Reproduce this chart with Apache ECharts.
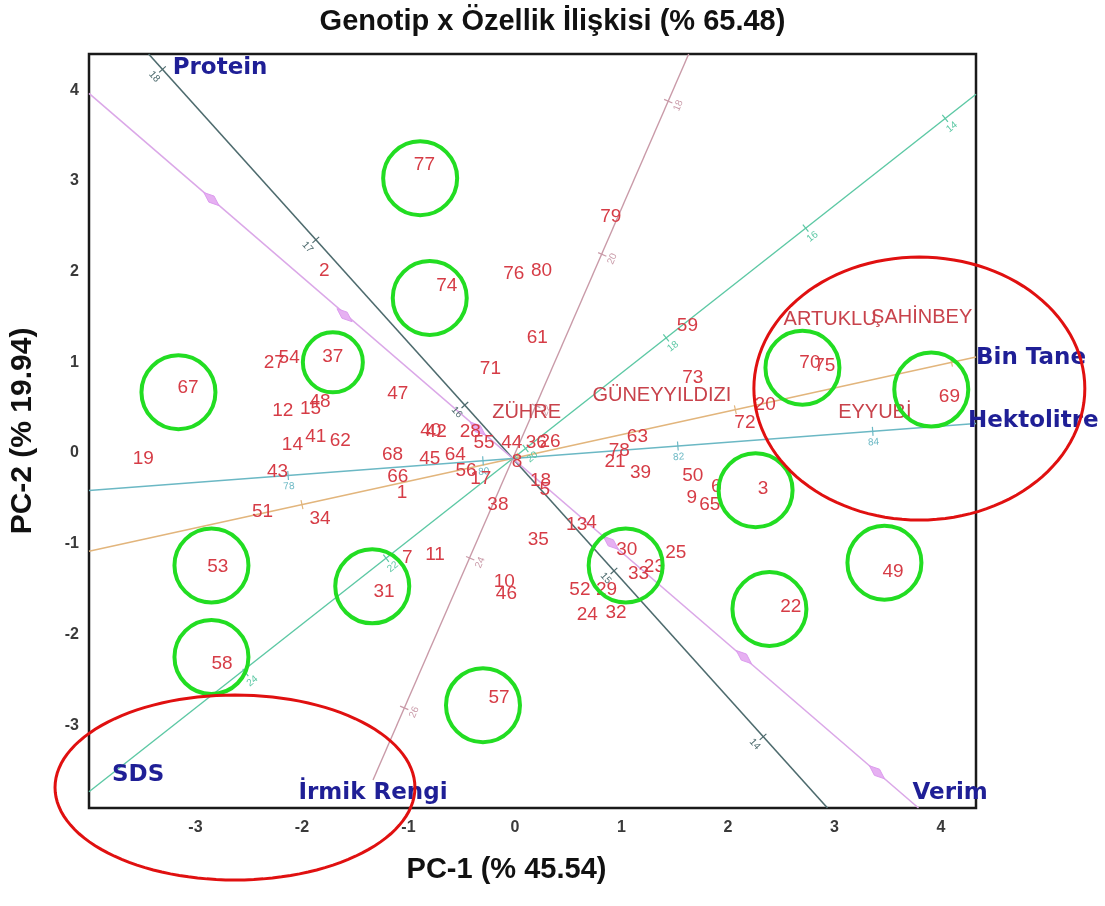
<!DOCTYPE html>
<html><head><meta charset="utf-8">
<script src="https://cdn.jsdelivr.net/npm/echarts@6/dist/echarts.min.js"></script>
<style>html,body{margin:0;padding:0;background:#fff}#c{width:1105px;height:906px}</style>
</head><body><div id="c"></div>
<script>
// ---------------- data ----------------
const titleText = 'Genotip x Özellik İlişkisi (% 65.48)';
const xAxisName = 'PC-1 (% 45.54)';
const yAxisName = 'PC-2 (% 19.94)';
const xTickLabels = [-3, -2, -1, 0, 1, 2, 3, 4];
const yTickLabels = [-3, -2, -1, 0, 1, 2, 3, 4];

const genotypeNames = ['77','2','74','76','80','79','61','59','71','47','37','27','54','67','12','15','48','14','41','62','19','43','68','66','1','40','42','45','64','56','17','28','55','44','36','26','8','5','18','38','35','13','4','10','46','7','11','31','53','51','34','58','57','30','23','25','33','52','29','24','32','63','78','21','39','50','9','65','6','3','22','49','73','72','20','70','75','69'];
const genotypeX = [-0.85,-1.79,-0.64,-0.01,0.25,0.90,0.21,1.62,-0.23,-1.10,-1.71,-2.26,-2.12,-3.07,-2.18,-1.92,-1.83,-2.09,-1.87,-1.64,-3.49,-2.23,-1.15,-1.10,-1.06,-0.79,-0.74,-0.80,-0.56,-0.46,-0.32,-0.42,-0.29,-0.03,0.20,0.33,0.02,0.28,0.24,-0.16,0.22,0.58,0.72,-0.10,-0.08,-1.01,-0.75,-1.23,-2.79,-2.37,-1.83,-2.75,-0.15,1.05,1.31,1.51,1.16,0.61,0.86,0.68,0.95,1.15,0.98,0.94,1.18,1.67,1.66,1.83,1.89,2.33,2.59,3.55,1.67,2.16,2.35,2.77,2.91,4.08];
const genotypeY = [3.18,2.01,1.84,1.98,2.01,2.60,1.27,1.40,0.93,0.65,1.06,1.00,1.05,0.72,0.47,0.49,0.56,0.09,0.18,0.14,-0.06,-0.21,-0.02,-0.26,-0.44,0.25,0.23,-0.06,-0.02,-0.20,-0.28,0.23,0.11,0.11,0.11,0.12,-0.10,-0.40,-0.31,-0.57,-0.96,-0.79,-0.77,-1.42,-1.55,-1.15,-1.12,-1.53,-1.25,-0.65,-0.72,-2.32,-2.70,-1.07,-1.25,-1.10,-1.33,-1.51,-1.51,-1.78,-1.76,0.18,0.03,-0.10,-0.22,-0.25,-0.49,-0.57,-0.37,-0.39,-1.69,-1.31,0.83,0.33,0.53,1.00,0.96,0.62];

const cultivarNames = ['ZÜHRE','GÜNEYYILDIZI','ARTUKLU','ŞAHİNBEY','EYYUBİ'];
const cultivarX = [0.11, 1.38, 2.96, 3.82, 3.38];
const cultivarY = [0.45, 0.64, 1.47, 1.49, 0.45];

// trait vectors: the labelled end of each trait axis (data units)
const biplotOrigin = [-0.02, -0.06];
const traitNames = ['Protein','Verim','İrmik Rengi','SDS','Bin Tane','Hektolitre'];
const traitEndX = [-3.44, 3.79, -1.333, -4.0, 4.33, 4.33];
const traitEndY = [4.40, -3.914, -3.605, -3.735, 1.058, 0.325];

// calibration ticks read along each trait axis
const proteinTickLabels = ['18','17','16','15','14'];
const proteinTickX = [-3.31,-1.87,-0.47,0.93,2.33];
const proteinTickY = [4.23,2.35,0.53,-1.30,-3.13];
const irmikTickLabels = ['18','20','22','24','26'];
const irmikTickX = [1.44,0.82,0.20,-0.42,-1.04];
const irmikTickY = [3.88,2.19,0.52,-1.16,-2.81];
const sdsTickLabels = ['14','16','18','20','22','24'];
const sdsTickX = [4.04,2.73,1.42,0.10,-1.21,-2.53];
const sdsTickY = [3.69,2.48,1.27,0.05,-1.16,-2.42];
const hektoTickLabels = ['78','80','82','84'];
const hektoTickX = [-2.13,-0.30,1.53,3.36];
const hektoTickY = [-0.247,-0.085,0.077,0.239];
const binTickLabels = ['','','',''];
const binTickX = [-2.00,0.03,2.07,4.10];
const binTickY = [-0.569,-0.047,0.477,1.000];
const verimMarkX = [-2.85,-1.60,-0.35,0.90,2.15,3.40];
const verimMarkY = [2.80,1.52,0.27,-0.99,-2.25,-3.52];

// annotation marks
const greenCircleFor = ['77','74','37','67','53','31','58','57','30','3','22','49','70','69'];
const greenCircleX = [-0.89,-0.80,-1.71,-3.16,-2.85,-1.34,-2.85,-0.30,1.04,2.26,2.39,3.47,2.70,3.91];
const greenCircleY = [3.03,1.71,1.00,0.67,-1.24,-1.47,-2.25,-2.78,-1.24,-0.41,-1.72,-1.21,0.94,0.70];
const redEllipseX = [3.798, -2.629];
const redEllipseY = [0.711, -3.688];
const redEllipseRx = [1.554, 1.690];
const redEllipseRy = [1.450, 1.020];

// ---------------- styles / layout ----------------
const X_MIN = -4.0, X_MAX = 4.33, Y_MIN = -3.914, Y_MAX = 4.40;
const traitStyle = {
  'Protein':     {color:'#4e6b6e', width:1.6, side:-1, offset:[24,14],  align:'left'},
  'Verim':       {color:'#dba8e8', width:1.6, side: 1, offset:[-6,-15], align:'left'},
  'İrmik Rengi': {color:'#c99aa8', width:1.4, side:-1, offset:[0,13],   align:'center'},
  'SDS':         {color:'#5cc8a4', width:1.4, side:-1, offset:[23,-17], align:'left'},
  'Bin Tane':    {color:'#e2b57c', width:1.6, side: 1, offset:[0,1],    align:'left'},
  'Hektolitre':  {color:'#6bb8c4', width:1.6, side: 1, offset:[-8,-3],  align:'left'}
};

function farEnd(ex, ey) {
  const O = biplotOrigin;
  const dx = -(ex - O[0]), dy = -(ey - O[1]);
  let t = Infinity;
  if (dx > 0) t = Math.min(t, (X_MAX - O[0]) / dx);
  if (dx < 0) t = Math.min(t, (X_MIN - O[0]) / dx);
  if (dy > 0) t = Math.min(t, (Y_MAX - O[1]) / dy);
  if (dy < 0) t = Math.min(t, (Y_MIN - O[1]) / dy);
  return [O[0] + dx * t, O[1] + dy * t];
}

const tickList = [];
function addTicks(ti, labels, xs, ys) {
  for (let i = 0; i < xs.length; i++) tickList.push({t: ti, x: xs[i], y: ys[i], label: labels[i]});
}
addTicks(0, proteinTickLabels, proteinTickX, proteinTickY);
addTicks(2, irmikTickLabels, irmikTickX, irmikTickY);
addTicks(3, sdsTickLabels, sdsTickX, sdsTickY);
addTicks(5, hektoTickLabels, hektoTickX, hektoTickY);
addTicks(4, binTickLabels, binTickX, binTickY);

function dirAngle(api, ti) {
  const o = api.coord(biplotOrigin);
  const e = api.coord([traitEndX[ti], traitEndY[ti]]);
  return Math.atan2(e[1] - o[1], e[0] - o[0]);
}

const noFade = {opacity: 1, color: 'rgba(0,0,0,0)'};
const series = [];
// trait axes
traitNames.forEach((name, i) => {
  const st = traitStyle[name];
  const far = farEnd(traitEndX[i], traitEndY[i]);
  series.push({
    type: 'line', name: name, silent: true, symbol: 'none', z: 2, animation: false,
    data: [[far[0], far[1]], [traitEndX[i], traitEndY[i]]],
    lineStyle: {color: st.color, width: st.width, opacity: 1}
  });
});
// calibration ticks
series.push({
  type: 'custom', z: 3, silent: true, animation: false,
  data: tickList.map(t => [t.x, t.y]),
  renderItem(params, api) {
    const tk = tickList[params.dataIndex];
    const p = api.coord([tk.x, tk.y]);
    const ang = dirAngle(api, tk.t);
    const nx = -Math.sin(ang), ny = Math.cos(ang);
    const st = traitStyle[traitNames[tk.t]];
    const L = 4.5;
    const kids = [{type: 'line', shape: {x1: p[0] - nx * L, y1: p[1] - ny * L, x2: p[0] + nx * L, y2: p[1] + ny * L},
      style: {stroke: st.color, lineWidth: 1.2}}];
    if (tk.label) {
      let a = ang; if (a > Math.PI / 2) a -= Math.PI; if (a < -Math.PI / 2) a += Math.PI;
      const d = st.side * 11;
      kids.push({type: 'text', x: p[0] + nx * d, y: p[1] + ny * d, rotation: -a,
        style: {text: tk.label, fill: st.color, fontSize: 10, fontFamily: 'Liberation Sans',
          align: 'center', verticalAlign: 'middle', textAlign: 'center', textVerticalAlign: 'middle'}});
    }
    return {type: 'group', children: kids};
  }
});
// Verim markers
series.push({
  type: 'custom', z: 3, silent: true, animation: false,
  data: verimMarkX.map((x, i) => [x, verimMarkY[i]]),
  renderItem(params, api) {
    const p = api.coord([api.value(0), api.value(1)]);
    const ang = dirAngle(api, 1);
    const ux = Math.cos(ang), uy = Math.sin(ang), nx = -uy, ny = ux;
    const a = 10, b = 4;
    return {type: 'polygon', shape: {points: [
      [p[0] + ux * a, p[1] + uy * a], [p[0] + nx * b, p[1] + ny * b],
      [p[0] - ux * a, p[1] - uy * a], [p[0] - nx * b, p[1] - ny * b]]},
      style: {fill: '#e6b0f2', stroke: '#dc9cee', lineWidth: 1}};
  }
});
// genotypes
series.push({
  type: 'scatter', z: 5, silent: true, animation: false, symbolSize: 1,
  itemStyle: noFade,
  data: genotypeNames.map((n, i) => ({name: n, value: [genotypeX[i], genotypeY[i]]})),
  label: {show: true, position: 'inside', formatter: '{b}', color: '#d63c46', opacity: 1,
    fontFamily: 'Liberation Sans', fontSize: 19}
});
series.push({
  type: 'scatter', z: 5, silent: true, animation: false, symbolSize: 1,
  itemStyle: noFade,
  data: cultivarNames.map((n, i) => ({name: n, value: [cultivarX[i], cultivarY[i]]})),
  label: {show: true, position: 'inside', formatter: '{b}', color: '#c8424b', opacity: 1,
    fontFamily: 'Liberation Sans', fontSize: 20}
});
// trait labels
series.push({
  type: 'scatter', z: 6, silent: true, animation: false, symbolSize: 1, clip: false,
  itemStyle: noFade,
  data: traitNames.map((n, i) => {
    const st = traitStyle[n];
    return {name: n, value: [traitEndX[i], traitEndY[i]],
      label: {offset: st.offset, align: st.align}};
  }),
  label: {show: true, position: 'inside', formatter: '{b}', color: '#1f1f96', opacity: 1,
    fontFamily: 'DejaVu Sans', fontWeight: 'bold', fontSize: 23, verticalAlign: 'middle'}
});
// green circles
series.push({
  type: 'scatter', z: 8, silent: true, animation: false, clip: false,
  symbol: 'circle',
  symbolSize: (v, p) => (greenCircleFor[p.dataIndex] === '37' ? 60 : 74),
  itemStyle: {color: 'rgba(0,0,0,0)', borderColor: '#22dd22', borderWidth: 4, opacity: 1},
  data: greenCircleX.map((x, i) => ({name: greenCircleFor[i], value: [x, greenCircleY[i]]}))
});
// red ellipses
series.push({
  type: 'custom', z: 9, silent: true, animation: false, clip: false,
  data: redEllipseX.map((x, i) => [x, redEllipseY[i], redEllipseRx[i], redEllipseRy[i]]),
  renderItem(params, api) {
    const c = api.coord([api.value(0), api.value(1)]);
    const s = api.size([api.value(2), api.value(3)]);
    const pts = [];
    for (let k = 0; k < 120; k++) {
      const t = k / 120 * Math.PI * 2;
      pts.push([c[0] + s[0] * Math.cos(t), c[1] + s[1] * Math.sin(t)]);
    }
    return {type: 'polygon', shape: {points: pts}, style: {fill: 'none', stroke: '#e01010', lineWidth: 3}};
  }
});

const option = {
  backgroundColor: '#ffffff',
  animation: false,
  title: {text: titleText, left: 'center', top: 2,
    textStyle: {fontFamily: 'Liberation Sans', fontWeight: 'bold', fontSize: 29, color: '#111'}},
  grid: {left: 89, right: 129, top: 54, bottom: 98, show: true, borderColor: '#1a1a1a', borderWidth: 2.5,
    backgroundColor: 'transparent', outerBoundsMode: 'none', containLabel: false},
  xAxis: {type: 'value', min: X_MIN, max: X_MAX, name: xAxisName, nameLocation: 'middle', nameGap: 47,
    nameTextStyle: {fontFamily: 'Liberation Sans', fontWeight: 'bold', fontSize: 29, color: '#111',
      padding: [0, 52, 0, 0]},
    axisLine: {show: false}, axisTick: {show: false}, splitLine: {show: false},
    axisLabel: {customValues: xTickLabels, margin: 12, color: '#3a3a3a', fontWeight: 'bold', fontSize: 16,
      fontFamily: 'Liberation Sans'}},
  yAxis: {type: 'value', min: Y_MIN, max: Y_MAX, name: yAxisName, nameLocation: 'middle', nameGap: 51,
    nameTextStyle: {fontFamily: 'Liberation Sans', fontWeight: 'bold', fontSize: 30, color: '#111'},
    axisLine: {show: false}, axisTick: {show: false}, splitLine: {show: false},
    axisLabel: {customValues: yTickLabels, margin: 10, color: '#3a3a3a', fontWeight: 'bold', fontSize: 16,
      fontFamily: 'Liberation Sans'}},
  series: series
};
const chart = echarts.init(document.getElementById('c'));
chart.setOption(option);
</script>
</body></html>
